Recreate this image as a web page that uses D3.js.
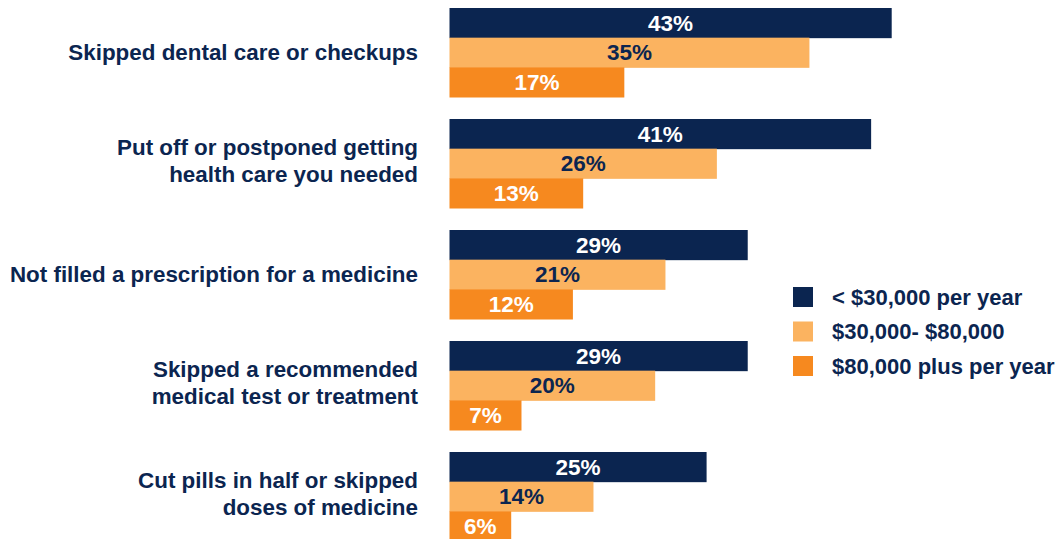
<!DOCTYPE html>
<html><head><meta charset="utf-8">
<script src="https://cdn.jsdelivr.net/npm/d3@7"></script>
<style>body{margin:0;background:#fff}svg{display:block}</style>
</head><body>
<svg id="c" width="1061" height="539"></svg>
<script>
const categories = [
  ["Skipped dental care or checkups"],
  ["Put off or postponed getting", "health care you needed"],
  ["Not filled a prescription for a medicine"],
  ["Skipped a recommended", "medical test or treatment"],
  ["Cut pills in half or skipped", "doses of medicine"]
];
const seriesNames = ["< $30,000 per year", "$30,000- $80,000", "$80,000 plus per year"];
const under30k = [43, 41, 29, 29, 25];
const mid30to80k = [35, 26, 21, 20, 14];
const over80k = [17, 13, 12, 7, 6];
const seriesValues = [under30k, mid30to80k, over80k];

const colors = ["#0b2550", "#fbb360", "#f6891f"];
const labelColors = ["#ffffff", "#0b2550", "#ffffff"];
const navy = "#0b2550";
const font = "Liberation Sans, Arial, sans-serif";

const svg = d3.select("#c");
const x = d3.scaleLinear().domain([0, 43]).range([449.5, 891.7]);
const y = d3.scaleBand().domain(d3.range(categories.length)).range([8, 541]).paddingInner(22/111).paddingOuter(0);
const sub = d3.scaleBand().domain(d3.range(3)).range([0, y.bandwidth()]);

const g = svg.append("g");
categories.forEach((cat, i) => {
  seriesValues.forEach((vals, s) => {
    const v = vals[i];
    const y0 = y(i) + sub(s);
    g.append("rect").attr("x", x(0)).attr("y", y0)
      .attr("width", x(v) - x(0)).attr("height", sub.bandwidth() + 0.5)
      .attr("fill", colors[s]);
    g.append("text").attr("x", (x(0) + x(v)) / 2).attr("y", y0 + sub.bandwidth() / 2)
      .attr("dy", "0.35em").attr("text-anchor", "middle")
      .attr("font-family", font).attr("font-weight", "bold")
      .attr("font-size", 22.5).attr("fill", labelColors[s]).text(v + "%");
  });
  const cy = y(i) + y.bandwidth() / 2;
  const lh = 26.5;
  const t = g.append("text").attr("text-anchor", "end")
    .attr("font-family", font).attr("font-weight", "bold")
    .attr("font-size", 22.4).attr("fill", navy);
  cat.forEach((line, k) => {
    const off = cat.length === 1 ? 0 : (k - 0.5) * lh - 3;
    t.append("tspan").attr("x", 418).attr("y", cy + off).attr("dy", "0.35em").text(line);
  });
});

const leg = svg.append("g");
seriesNames.forEach((n, s) => {
  const ly = 287 + s * 34.5;
  leg.append("rect").attr("x", 793).attr("y", ly).attr("width", 20).attr("height", 20).attr("fill", colors[s]);
  leg.append("text").attr("x", 832).attr("y", ly + 10).attr("dy", "0.35em")
    .attr("font-family", font).attr("font-weight", "bold")
    .attr("font-size", 22).attr("fill", navy).text(n);
});
</script>
</body></html>
